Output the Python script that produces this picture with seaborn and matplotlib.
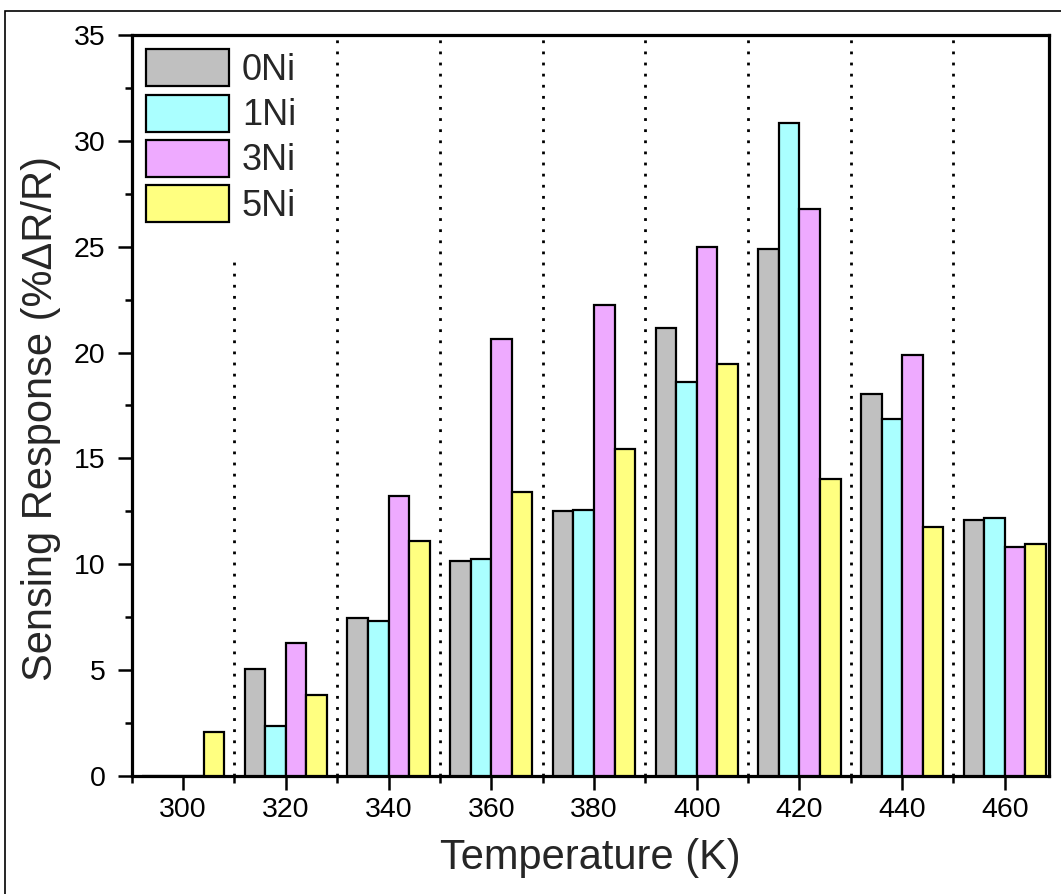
import matplotlib
matplotlib.use("Agg")
import matplotlib.pyplot as plt
import seaborn as sns
import pandas as pd
import numpy as np
from matplotlib.patches import Rectangle
from matplotlib.ticker import MultipleLocator

temperatures = [300, 320, 340, 360, 380, 400, 420, 440, 460]
series_names = ["0Ni", "1Ni", "3Ni", "5Ni"]
ni0 = [0.0, 5.07, 7.45, 10.14, 12.52, 21.17, 24.88, 18.06, 12.09]
ni1 = [0.0, 2.36, 7.31, 10.25, 12.58, 18.60, 30.86, 16.85, 12.19]
ni3 = [0.0, 6.30, 13.23, 20.64, 22.25, 24.99, 26.80, 19.89, 10.82]
ni5 = [2.09, 3.84, 11.10, 13.43, 15.45, 19.45, 14.03, 11.78, 10.96]
colors = ["#C0C0C0", "#AAFFFF", "#EEAAFF", "#FFFF80"]

rows = []
for name, vals in zip(series_names, [ni0, ni1, ni3, ni5]):
    for t, v in zip(temperatures, vals):
        rows.append({"Temperature": t, "Sample": name, "Response": v})
df = pd.DataFrame(rows)

sns.set_style("ticks")
plt.rcParams["font.family"] = ["Liberation Sans", "DejaVu Sans"]

fig = plt.figure(figsize=(10.61, 8.94), dpi=100)
ax = fig.add_axes([0.1242, 0.1320, 0.9887 - 0.1242, 0.9609 - 0.1320])

sns.barplot(data=df, x="Temperature", y="Response", hue="Sample",
            hue_order=series_names, palette=colors, saturation=1,
            native_scale=True, width=0.8, edgecolor="black", linewidth=1.6,
            errorbar=None, ax=ax, zorder=3)

ax.set_xlim(290, 468.6)
ax.set_ylim(0, 35)
ax.xaxis.set_major_locator(MultipleLocator(20))
ax.xaxis.set_minor_locator(MultipleLocator(10))
ax.yaxis.set_major_locator(MultipleLocator(5))
ax.yaxis.set_minor_locator(MultipleLocator(2.5))

for sp in ax.spines.values():
    sp.set_visible(True)
    sp.set_linewidth(2.3)
    sp.set_color("black")

ax.tick_params(axis="both", which="major", direction="out", length=10, width=1.8,
               labelsize=20.5, color="black", labelcolor="black")
ax.tick_params(axis="both", which="minor", direction="out", length=5, width=1.8, color="black")
ax.tick_params(axis="y", which="major", pad=9)
ax.tick_params(axis="x", which="major", pad=5)
ax.tick_params(top=False, right=False, which="both")

# dotted separators between groups
for xv in range(310, 460, 20):
    ymax = 0.696 if xv == 310 else 1.0
    ax.axvline(xv, ymin=0, ymax=ymax, color="black", lw=2.0, ls=(0, (1, 3)), zorder=1)

ax.set_xlabel("Temperature (K)", fontsize=30, labelpad=11)
ax.set_ylabel("Sensing Response (%ΔR/R)", fontsize=30)
ax.yaxis.set_label_coords(-0.077, 0.483)

handles, labels = ax.get_legend_handles_labels()
leg = ax.legend(handles, labels, loc="upper left", frameon=False, fontsize=26,
                handlelength=2.3, handleheight=1.2, labelspacing=0.18,
                handletextpad=0.35, borderpad=0.2, borderaxespad=0.2)
for p in leg.get_patches():
    p.set_edgecolor("black")
    p.set_linewidth(1.6)

# outer frame
fig.patches.append(Rectangle((4.5 / 1061, -0.01), 1.1, 1 - 10.5 / 894 + 0.01,
                             transform=fig.transFigure, fill=False,
                             edgecolor="black", lw=1.2))

fig.savefig("out.png", dpi=100)
